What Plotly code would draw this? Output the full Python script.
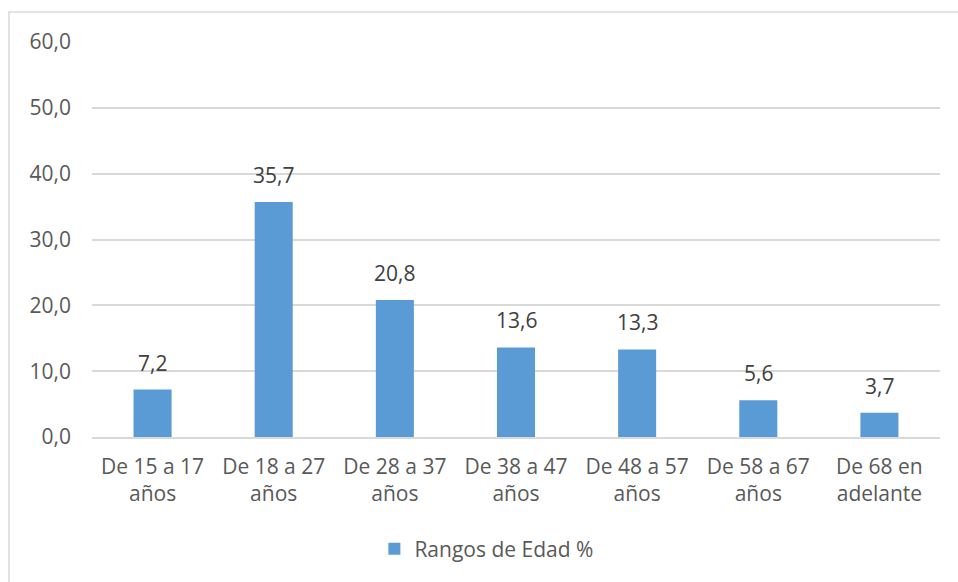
import plotly.graph_objects as go

categories = ["De 15 a 17<br>años", "De 18 a 27<br>años", "De 28 a 37<br>años",
              "De 38 a 47<br>años", "De 48 a 57<br>años", "De 58 a 67<br>años",
              "De 68 en<br>adelante"]
values = [7.2, 35.7, 20.8, 13.6, 13.3, 5.6, 3.7]
series_name = "Rangos de Edad %"
y_ticks = [0, 10, 20, 30, 40, 50, 60]

FONT = "Open Sans"
FS = 21
fig = go.Figure(go.Bar(
    x=categories, y=values, name=series_name,
    marker=dict(color="#5B9BD5", line=dict(width=0)),
    showlegend=True,
))

for c, v in zip(categories, values):
    fig.add_annotation(x=c, y=v, xref="x", yref="y",
                       text=f"{v:.1f}".replace(".", ","),
                       showarrow=False, yanchor="middle", yshift=27,
                       font=dict(family=FONT, size=FS, color="#404040"))

fig.update_layout(
    width=958, height=582,
    margin=dict(l=92, r=18, t=42, b=145),
    paper_bgcolor="white", plot_bgcolor="white",
    separators=",.",
    bargap=0.686,
    font=dict(family=FONT, size=FS, color="#595959"),
    xaxis=dict(showgrid=False, showline=True, linecolor="#D9D9D9", linewidth=1.5,
               ticks="", ticklabelstandoff=10,
               tickfont=dict(family=FONT, size=FS, color="#595959")),
    yaxis=dict(range=[0, 60], tickvals=y_ticks, tickformat=".1f",
               showgrid=True, gridcolor="#D9D9D9", gridwidth=1.5,
               zeroline=False, showline=False, ticks="", ticklabelstandoff=20,
               tickfont=dict(family=FONT, size=FS, color="#595959")),
    legend=dict(orientation="h", x=0.333, xanchor="left", y=-0.2835, yanchor="middle",
                font=dict(family=FONT, size=FS, color="#595959")),
    shapes=[dict(type="rect", xref="paper", yref="paper",
                 x0=-0.0979, x1=1.1, y0=-0.6, y1=1.076,
                 line=dict(color="#D9D9D9", width=1.5), fillcolor="rgba(0,0,0,0)")],
)

fig.write_html("out.html")
